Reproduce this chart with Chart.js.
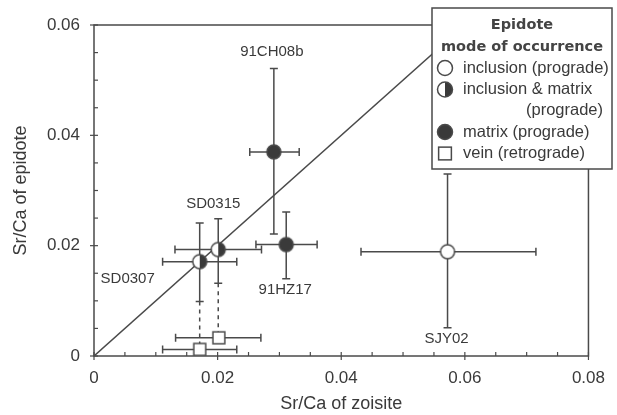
<!DOCTYPE html>
<html lang="en">
<head>
<meta charset="UTF-8">
<title>Sr/Ca of zoisite vs epidote</title>
<script src="https://cdn.jsdelivr.net/npm/chart.js"></script>
<style>
  html, body { margin: 0; padding: 0; background: #fff; }
  #wrap { position: relative; width: 617px; height: 415px; }
</style>
</head>
<body>
<div id="wrap"><canvas id="srChart"></canvas></div>
<script>
// epidote samples, plotted as circles (x = zoisite, y = epidote)
const samples    = ['SJY02', '91CH08b', '91HZ17', 'SD0315', 'SD0307'];
const modes      = ['inclusion', 'matrix', 'matrix', 'both', 'both'];
const zoisite    = [0.0572, 0.0291, 0.0311, 0.0201, 0.0171];
const zoisiteLo  = [0.0432, 0.0252, 0.0262, 0.0131, 0.0111];
const zoisiteHi  = [0.0715, 0.0332, 0.0361, 0.0271, 0.0231];
const epidote    = [0.0189, 0.0370, 0.0202, 0.0193, 0.0171];
const epidoteLo  = [0.0051, 0.0221, 0.0140, 0.0132, 0.0099];
const epidoteHi  = [0.0330, 0.0521, 0.0261, 0.0249, 0.0241];

// vein epidote (squares), linked to the sample above them
const veinSamples   = ['SD0315', 'SD0307'];
const veinZoisite   = [0.0202, 0.0171];
const veinZoisiteLo = [0.0132, 0.0111];
const veinZoisiteHi = [0.0270, 0.0231];
const veinEpidote   = [0.0033, 0.0012];

// 1:1 line
const oneToOne = [0, 0.06];

const xMajor = [0, 0.02, 0.04, 0.06, 0.08];
const yMajor = [0, 0.02, 0.04, 0.06];

const legendTitle = ['Epidote', 'mode of occurrence'];
const legendRows = [
  { style: 'inclusion', text: ['inclusion (prograde)'] },
  { style: 'both', text: ['inclusion & matrix', '(prograde)'] },
  { style: 'matrix', text: ['matrix (prograde)'] },
  { style: 'vein', text: ['vein (retrograde)'] }
];

// label offsets (px) from each sample's point
const labelOffsets = {
  'SJY02': [-1, 87], '91CH08b': [-2, -100], '91HZ17': [-1, 45],
  'SD0315': [-5, -46], 'SD0307': [-72, 17]
};

const INK = '#3a3a3a';
const LINE = '#4a4a4a';
const FONT = '"Liberation Sans", Arial, Helvetica, sans-serif';

function drawMarker(c, style, cx, cy, r) {
  c.save();
  c.lineWidth = 1.5;
  c.strokeStyle = LINE;
  if (style === 'vein') {
    const s = r * 0.85;
    c.fillStyle = '#fff';
    c.fillRect(cx - s, cy - s, 2 * s, 2 * s);
    c.strokeRect(cx - s, cy - s, 2 * s, 2 * s);
  } else {
    c.beginPath();
    c.arc(cx, cy, r, 0, Math.PI * 2);
    c.fillStyle = style === 'matrix' ? INK : '#fff';
    c.fill();
    if (style === 'both') {
      c.beginPath();
      c.arc(cx, cy, r, -Math.PI / 2, Math.PI / 2);
      c.closePath();
      c.fillStyle = INK;
      c.fill();
    }
    c.beginPath();
    c.arc(cx, cy, r, 0, Math.PI * 2);
    c.stroke();
  }
  c.restore();
}

function markerImage(style, r) {
  const cv = document.createElement('canvas');
  const size = Math.ceil(2 * r + 4);
  cv.width = size; cv.height = size;
  drawMarker(cv.getContext('2d'), style, size / 2, size / 2, r);
  return cv;
}

const isMajor = (v, step) => Math.abs(v / step - Math.round(v / step)) < 1e-6;
const fmt = v => (Math.abs(v) < 1e-9 ? '0' : v.toFixed(2));

// build datasets
const datasets = [];
['inclusion', 'both', 'matrix'].forEach(m => {
  const pts = [];
  samples.forEach((s, i) => { if (modes[i] === m) pts.push({ x: zoisite[i], y: epidote[i] }); });
  datasets.push({ label: m, data: pts, pointStyle: markerImage(m, 7), order: 0 });
});
datasets.push({
  label: 'vein',
  data: veinZoisite.map((x, i) => ({ x, y: veinEpidote[i] })),
  pointStyle: markerImage('vein', 7),
  order: 0
});
datasets.push({
  type: 'line', label: '1:1',
  data: [{ x: oneToOne[0], y: oneToOne[0] }, { x: oneToOne[1], y: oneToOne[1] }],
  borderColor: LINE, borderWidth: 1.5, pointRadius: 0, order: 5
});
veinSamples.forEach((s, i) => {
  const k = samples.indexOf(s);
  datasets.push({
    type: 'line', label: 'link ' + s,
    data: [{ x: zoisite[k], y: epidoteLo[k] }, { x: zoisite[k], y: veinEpidote[i] }],
    borderColor: LINE, borderWidth: 1.5, borderDash: [4, 4], pointRadius: 0, order: 4
  });
});

// frame, inward tick marks and error bars
const underlay = {
  id: 'underlay',
  beforeDatasetsDraw(chart) {
    const { ctx, chartArea: a, scales: { x, y } } = chart;
    ctx.save();
    ctx.strokeStyle = LINE;
    ctx.lineWidth = 1.5;
    ctx.strokeRect(a.left, a.top, a.right - a.left, a.bottom - a.top);

    ctx.lineWidth = 1.2;
    x.ticks.forEach(t => {
      const px = x.getPixelForValue(t.value);
      const major = isMajor(t.value, 0.02);
      ctx.beginPath();
      ctx.moveTo(px, a.bottom + (major ? 4 : 0));
      ctx.lineTo(px, a.bottom - 4);
      ctx.stroke();
    });
    y.ticks.forEach(t => {
      const py = y.getPixelForValue(t.value);
      const major = isMajor(t.value, 0.02);
      ctx.beginPath();
      ctx.moveTo(a.left - (major ? 4 : 0), py);
      ctx.lineTo(a.left + 4, py);
      ctx.stroke();
    });

    const cap = 4;
    const bar = (x0, x1, yv) => {
      const l = x.getPixelForValue(x0), r = x.getPixelForValue(x1), py = y.getPixelForValue(yv);
      ctx.beginPath();
      ctx.moveTo(l, py); ctx.lineTo(r, py);
      ctx.moveTo(l, py - cap); ctx.lineTo(l, py + cap);
      ctx.moveTo(r, py - cap); ctx.lineTo(r, py + cap);
      ctx.stroke();
    };
    const vbar = (xv, y0, y1) => {
      const px = x.getPixelForValue(xv), b = y.getPixelForValue(y0), t = y.getPixelForValue(y1);
      ctx.beginPath();
      ctx.moveTo(px, b); ctx.lineTo(px, t);
      ctx.moveTo(px - cap, b); ctx.lineTo(px + cap, b);
      ctx.moveTo(px - cap, t); ctx.lineTo(px + cap, t);
      ctx.stroke();
    };
    ctx.lineWidth = 1.5;
    samples.forEach((s, i) => {
      bar(zoisiteLo[i], zoisiteHi[i], epidote[i]);
      vbar(zoisite[i], epidoteLo[i], epidoteHi[i]);
    });
    veinSamples.forEach((s, i) => bar(veinZoisiteLo[i], veinZoisiteHi[i], veinEpidote[i]));
    ctx.restore();
  }
};

// sample names and the legend box
const overlay = {
  id: 'overlay',
  afterDraw(chart) {
    const { ctx, scales: { x, y } } = chart;
    ctx.save();
    ctx.fillStyle = INK;
    ctx.font = '15px ' + FONT;
    ctx.textAlign = 'center';
    ctx.textBaseline = 'middle';
    samples.forEach((s, i) => {
      const off = labelOffsets[s];
      ctx.fillText(s, x.getPixelForValue(zoisite[i]) + off[0], y.getPixelForValue(epidote[i]) + off[1]);
    });

    // legend
    const L = 432, T = 8, W = 180, H = 161;
    ctx.fillStyle = '#fff';
    ctx.fillRect(L, T, W, H);
    ctx.strokeStyle = LINE;
    ctx.lineWidth = 1.5;
    ctx.strokeRect(L, T, W, H);

    ctx.fillStyle = '#444';
    ctx.font = 'bold 14.5px "DejaVu Sans", sans-serif';
    ctx.textAlign = 'center';
    ctx.fillText(legendTitle[0], L + W / 2, T + 17);
    ctx.fillText(legendTitle[1], L + W / 2, T + 39);

    ctx.font = '16.5px ' + FONT;
    ctx.fillStyle = INK;
    let rowY = T + 60;
    legendRows.forEach(row => {
      drawMarker(ctx, row.style, L + 13, rowY, 7.5);
      ctx.textAlign = 'left';
      ctx.fillText(row.text[0], L + 31, rowY);
      for (let k = 1; k < row.text.length; k++) {
        rowY += 21;
        ctx.textAlign = 'right';
        ctx.fillText(row.text[k], L + W - 9, rowY);
      }
      rowY += 21.5;
    });
    ctx.restore();
  }
};

const ctx = document.getElementById('srChart').getContext('2d');
new Chart(ctx, {
  type: 'scatter',
  data: { datasets },
  options: {
    responsive: true,
    maintainAspectRatio: false,
    animation: false,
    layout: { padding: { top: 25, right: 17, bottom: 0, left: 0 } },
    plugins: { legend: { display: false }, tooltip: { enabled: false } },
    elements: { point: { radius: 7 }, line: { tension: 0 } },
    scales: {
      x: {
        type: 'linear', min: 0, max: 0.08,
        afterBuildTicks: s => { s.ticks = []; for (let i = 0; i <= 16; i++) s.ticks.push({ value: i * 0.005 }); },
        ticks: {
          autoSkip: false, maxRotation: 0, padding: 12, color: INK,
          font: { family: FONT, size: 17 },
          callback: v => (xMajor.some(m => Math.abs(m - v) < 1e-9) ? fmt(v) : '')
        },
        grid: { display: false, drawTicks: false },
        border: { display: false },
        title: { display: true, text: 'Sr/Ca of zoisite', color: INK, font: { family: FONT, size: 18 }, padding: { top: 0, bottom: 0 } },
        afterFit: s => { s.height = 59; }
      },
      y: {
        type: 'linear', min: 0, max: 0.06,
        afterBuildTicks: s => { s.ticks = []; for (let i = 0; i <= 12; i++) s.ticks.push({ value: i * 0.005 }); },
        ticks: {
          autoSkip: false, padding: 14, color: INK,
          font: { family: FONT, size: 17 },
          callback: v => (yMajor.some(m => Math.abs(m - v) < 1e-9) ? fmt(v) : '')
        },
        grid: { display: false, drawTicks: false },
        border: { display: false },
        title: { display: true, text: 'Sr/Ca of epidote', color: INK, font: { family: FONT, size: 18 }, padding: { top: 10, bottom: 0 } },
        afterFit: s => { s.width = 94; }
      }
    }
  },
  plugins: [underlay, overlay]
});
</script>
</body>
</html>
